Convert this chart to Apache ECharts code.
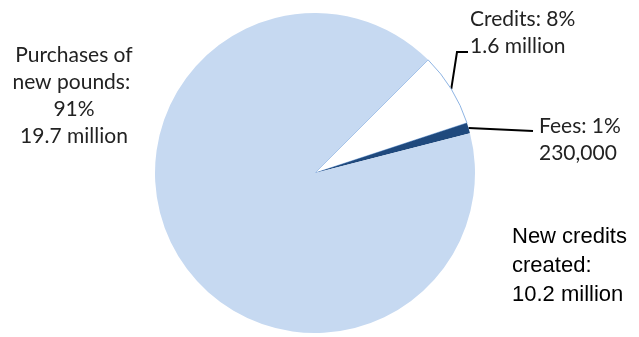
<!DOCTYPE html>
<html><head><meta charset="utf-8">
<script src="https://cdn.jsdelivr.net/npm/echarts@6/dist/echarts.min.js"></script>
<style>html,body{margin:0;padding:0;background:#fff}#c{width:639px;height:337px}</style>
</head><body><div id="c"></div>
<script>
var categories = ['Credits', 'Fees', 'Purchases of\nnew pounds'];
var values = [1.6, 0.23, 19.7];
var percentLabels = ['8%', '1%', '91%'];
var amountLabels = ['1.6 million', '230,000', '19.7 million'];
var noteLines = ['New credits', 'created:', '10.2 million'];

var colors = ['#ffffff', '#1f497d', '#c6d9f1'];
// label anchor placement (layout only)
var labelPos = [
  {x: 470, y: 33, align: 'left', bend: [457, 52], end: [468, 52]},
  {x: 539, y: 140, align: 'left', bend: [533, 131], end: [533, 131]},
  {x: 74, y: 96, align: 'center'}
];

var chart = echarts.init(document.getElementById('c'));
var data = categories.map(function (c, i) {
  return {
    name: c, value: values[i],
    itemStyle: i === 0 ? {color: colors[i], borderColor: '#8eb4e3', borderWidth: 1} : {color: colors[i], borderWidth: 0},
    labelLine: {show: i !== 2},
    label: {align: labelPos[i].align}
  };
});
chart.setOption({
  animation: false,
  series: [{
    type: 'pie',
    center: [315, 173],
    radius: [0, 160],
    startAngle: 45,
    clockwise: true,
    avoidLabelOverlap: false,
    data: data,
    label: {
      show: true, position: 'outside',
      fontFamily: 'Lato', fontSize: 21, lineHeight: 27, color: '#222',
      formatter: function (p) {
        var i = p.dataIndex;
        return categories[i] + ': ' + (i === 2 ? '\n' : '') + percentLabels[i] + '\n' + amountLabels[i];
      }
    },
    labelLine: {show: true, lineStyle: {color: '#000', width: 2}},
    labelLayout: function (params) {
      var i = params.dataIndex;
      var lp = labelPos[i];
      var res = {x: lp.x, y: lp.y, align: lp.align, verticalAlign: 'middle'};
      if (lp.bend && params.labelLinePoints) {
        var p0 = params.labelLinePoints[0];
        res.labelLinePoints = [p0, lp.bend, lp.end];
      }
      return res;
    }
  }],
  graphic: [{
    type: 'text', left: 512, top: 222,
    style: {text: noteLines.join('\n'), fontFamily: 'Liberation Sans', fontSize: 22, lineHeight: 29, fill: '#000'}
  }]
});
</script></body></html>
